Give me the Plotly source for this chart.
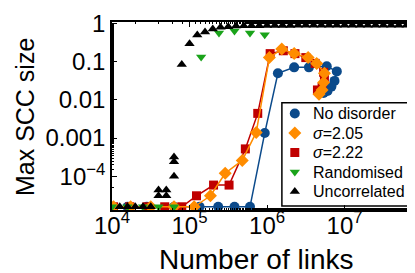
import plotly.graph_objects as go

FLOOR = 1.6e-5

# log10(number of links) and Max SCC size for each series
blue_logx = [4.0, 4.2, 4.45, 4.8, 5.13, 5.37, 5.58, 5.78, 5.97, 6.14, 6.35, 6.54, 6.77, 6.90, 6.87, 6.83, 6.78, 6.73]
blue_y = [FLOOR, FLOOR, FLOOR, FLOOR, FLOOR, FLOOR, FLOOR, FLOOR, 1.35e-3, 0.049, 0.07, 0.07, 0.075, 0.055, 0.031, 0.022, 0.017, 0.015]

orange_logx = [4.02, 4.24, 4.5, 4.8, 5.06, 5.27, 5.46, 5.68, 5.86, 6.03, 6.19, 6.35, 6.53, 6.64, 6.74, 6.73, 6.71, 6.67]
orange_y = [FLOOR, FLOOR, FLOOR, FLOOR, FLOOR, 3.1e-5, 1.2e-4, 2.6e-4, 1.4e-3, 0.126, 0.21, 0.16, 0.126, 0.089, 0.049, 0.028, 0.018, 0.014]

red_logx = [4.02, 4.23, 4.45, 4.68, 4.9, 5.09, 5.31, 5.51, 5.72, 5.88, 6.04, 6.21, 6.36, 6.50, 6.62, 6.73, 6.74, 6.71, 6.65]
red_y = [FLOOR, FLOOR, FLOOR, FLOOR, FLOOR, 3.1e-5, 5.9e-5, 5.9e-5, 5.2e-4, 4.4e-3, 0.16, 0.19, 0.16, 0.126, 0.089, 0.052, 0.036, 0.021, 0.018]

green_logx = [4.0, 4.2, 4.4, 4.6, 4.8, 5.15, 5.38, 5.58, 5.78, 5.97]
green_y = [FLOOR, FLOOR, FLOOR, FLOOR, FLOOR, 0.13, 0.55, 0.62, 0.55, 0.5]

black_logx = [4.1, 4.2, 4.3, 4.4, 4.5, 4.6, 4.6, 4.7, 4.7, 4.8, 4.8, 4.8,
              4.9, 5.0, 5.1, 5.2, 5.3, 5.4, 5.5, 5.6, 5.7, 5.8, 5.9, 6.0,
              6.1, 6.2, 6.3, 6.4, 6.5, 6.6, 6.7, 6.8, 6.9, 7.0, 7.1, 7.2,
              7.3, 7.4, 7.5, 7.6, 7.7, 7.8, 7.9]
black_y = [FLOOR, FLOOR, FLOOR, FLOOR, FLOOR, 4.4e-5, 3.1e-5, 4.4e-5, 3.1e-5, 3.2e-4, 2.4e-4, 1.0e-4,
           0.083, 0.29, 0.49, 0.59, 0.70, 0.78, 0.80, 0.84, 0.85, 0.86, 0.86, 0.87,
           0.87, 0.87, 0.87, 0.88, 0.88, 0.88, 0.88, 0.88, 0.88, 0.88, 0.88, 0.88,
           0.88, 0.88, 0.88, 0.88, 0.88, 0.88, 0.88]

series_names = ["No disorder", "<i>σ</i>=2.05", "<i>σ</i>=2.22", "Randomised", "Uncorrelated"]

x_tickvals = [1e4, 1e5, 1e6, 1e7]
x_ticktext = ["10<sup>4</sup>", "10<sup>5</sup>", "10<sup>6</sup>", "10<sup>7</sup>"]
y_tickvals = [1, 0.1, 0.01, 0.001, 1e-4]
y_ticktext = ["1", "0.1", "0.01", "0.001", "10<sup>−4</sup>"]

BLUE = "#0b4a8b"
ORANGE = "#ff8c00"
RED = "#c00000"
GREEN = "#1aa31a"
BLACK = "#000000"

W, H = 415, 273
L, R, T, B = 104, 2, 11, 71
PW, PH = W - L - R, H - T - B

def px(lx):
    return [10 ** v for v in lx]

def paper_x(p):
    return (p - L) / PW

def paper_y(p):
    return (H - B - p) / PH

fig = go.Figure()

styles = {
    "No disorder": (BLUE, "circle", 10, True),
    "<i>σ</i>=2.05": (ORANGE, "diamond", 10, True),
    "<i>σ</i>=2.22": (RED, "square", 9, True),
    "Randomised": (GREEN, "triangle-down", 9, False),
    "Uncorrelated": (BLACK, "triangle-up", 9, False),
}
data = {
    "No disorder": (blue_logx, blue_y),
    "<i>σ</i>=2.05": (orange_logx, orange_y),
    "<i>σ</i>=2.22": (red_logx, red_y),
    "Randomised": (green_logx, green_y),
    "Uncorrelated": (black_logx, black_y),
}
draw_order = ["No disorder", "<i>σ</i>=2.22", "<i>σ</i>=2.05", "Randomised", "Uncorrelated"]

for name in draw_order:
    col, sym, size, has_line = styles[name]
    lx, ys = data[name]
    fig.add_trace(go.Scatter(x=px(lx), y=ys, mode="lines+markers" if has_line else "markers",
                             name=name, showlegend=False,
                             line=dict(color=col, width=1.5),
                             marker=dict(symbol=sym, size=size, color=col)))

# custom legend (box, symbols, labels) placed in plot-area fractions
LEG_LEFT, LEG_RIGHT, LEG_TOP, LEG_BOTTOM = 275, 403, 93, 198
ROW0, ROW_STEP = 104, 19.8
SYM_X, TEXT_X = 288, 304

fig.add_shape(type="rect", xref="paper", yref="paper",
              x0=paper_x(LEG_LEFT), x1=paper_x(LEG_RIGHT),
              y0=paper_y(LEG_BOTTOM), y1=paper_y(LEG_TOP),
              line=dict(color="black", width=1.5), fillcolor="white", layer="below")

for i, name in enumerate(series_names):
    col, sym, size, _ = styles[name]
    yy = paper_y(ROW0 + i * ROW_STEP)
    fig.add_trace(go.Scatter(x=[paper_x(SYM_X)], y=[yy], mode="markers", xaxis="x2", yaxis="y2",
                             showlegend=False, hoverinfo="skip", cliponaxis=False,
                             marker=dict(symbol=sym, size=size, color=col)))
    fig.add_annotation(xref="paper", yref="paper", x=paper_x(TEXT_X), y=yy,
                       text=name, showarrow=False, xanchor="left", yanchor="middle",
                       font=dict(size=16))

axis_common = dict(showline=True, linecolor="black", linewidth=1.5, mirror="ticks",
                   ticks="inside", ticklen=5, tickcolor="black", tickwidth=1,
                   showgrid=False, zeroline=False, ticklabeloverflow="allow")

fig.update_xaxes(type="log", range=[4.0, 7.96], tickvals=x_tickvals, ticktext=x_ticktext,
                 tickfont=dict(size=24), ticklabelstandoff=-7,
                 minor=dict(ticks="inside", ticklen=2.5, tickcolor="black", showgrid=False),
                 **axis_common)
fig.update_yaxes(type="log", range=[-4.88, 0.03], tickvals=y_tickvals, ticktext=y_ticktext,
                 tickfont=dict(size=24),
                 minor=dict(ticks="inside", ticklen=2.5, tickcolor="black", showgrid=False),
                 **axis_common)

fig.add_annotation(xref="paper", yref="paper", x=paper_x(249), y=paper_y(252),
                   text="Number of links", showarrow=False, xanchor="center", yanchor="middle",
                   font=dict(size=28))
fig.add_annotation(xref="paper", yref="paper", x=paper_x(17), y=paper_y(108),
                   text="Max SCC size", showarrow=False, xanchor="center", yanchor="middle",
                   textangle=-90, font=dict(size=25))

fig.update_layout(
    width=W, height=H,
    margin=dict(l=L, r=R, t=T, b=B),
    paper_bgcolor="white", plot_bgcolor="white",
    font=dict(family="Liberation Sans, Arial, sans-serif", color="black"),
    showlegend=False,
    xaxis2=dict(overlaying="x", range=[0, 1], visible=False),
    yaxis2=dict(overlaying="y", range=[0, 1], visible=False),
)

fig.write_html("out.html")
